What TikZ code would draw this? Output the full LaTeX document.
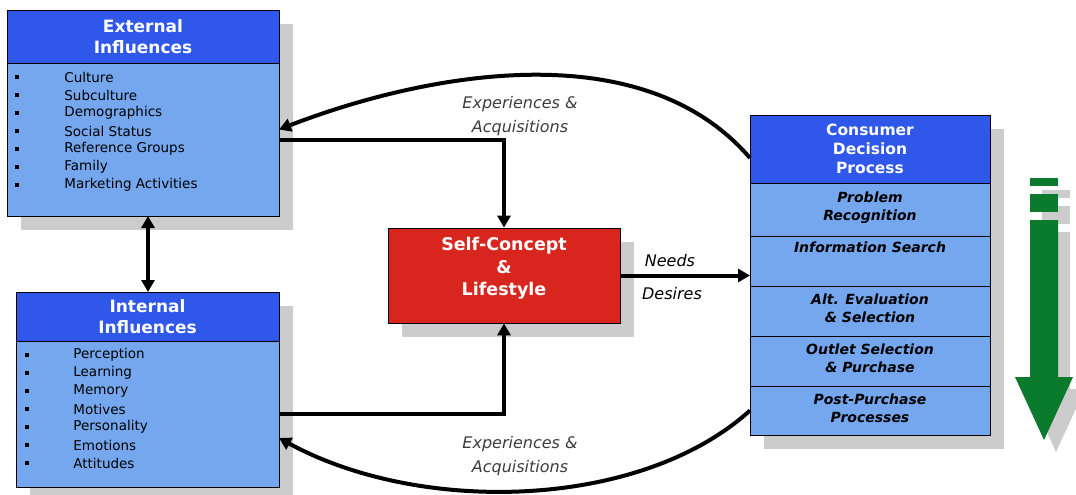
\documentclass[tikz,border=0pt]{standalone}
\usepackage{fontspec}
\setmainfont{DejaVu Sans}
\usetikzlibrary{positioning,arrows.meta}
\definecolor{hdrblue}{HTML}{2F57EA}
\definecolor{bodyblue}{HTML}{74A7EE}
\definecolor{selfred}{HTML}{D8261F}
\definecolor{flowgreen}{HTML}{0A7A2C}
\definecolor{shadegray}{HTML}{CCCCCC}
\definecolor{notegray}{HTML}{3C3C3C}

\begin{document}
\begin{tikzpicture}[x=1pt, y=-1pt, thick,
    hdr/.style = {draw=black, line width=0.8pt, fill=hdrblue, text=white, align=center,
      font=\bfseries\fontsize{17}{21}\selectfont, inner sep=0pt, outer sep=0pt},
    body/.style = {draw=black, line width=0.8pt, fill=bodyblue, inner sep=0pt, outer sep=0pt},
    item/.style = {anchor=west, inner sep=0pt, font=\fontsize{13.5}{15}\selectfont},
    dot/.style = {fill=black, minimum size=3.5pt, inner sep=0pt},
    stage/.style = {draw=black, line width=0.8pt, fill=bodyblue, align=center, minimum width=240pt,
      inner sep=0pt, outer sep=0pt, text depth=6pt, font=\bfseries\itshape\fontsize{14}{18}\selectfont},
    selfbox/.style = {draw=black, line width=0.8pt, fill=selfred, text=white, align=center,
      minimum width=232pt, minimum height=95pt, font=\bfseries\fontsize{17.5}{22.5}\selectfont},
    conn/.style = {line width=4pt, -{Triangle[length=12pt,width=13pt]}},
    note/.style = {inner sep=0pt, font=\itshape\fontsize{16}{24}\selectfont},
    boxshade/.style = {fill=shadegray}
    ]
\useasboundingbox (0,0) rectangle (1076,495);

% shadows
\fill[boxshade] (21,24) rectangle (293,230);
\fill[boxshade] (30,306) rectangle (293,499);
\fill[boxshade] (402,242) rectangle (634,337);
\fill[boxshade] (764,129) rectangle (1004,449);
\fill[boxshade] (1042,190) rectangle (1070,198);
\fill[boxshade] (1042,206) rectangle (1070,224);
\fill[boxshade] (1042,232) -- (1070,232) -- (1070,389) -- (1085,389) -- (1056,452) -- (1027,389) -- (1042,389) -- cycle;

% external influences
\node[hdr, minimum width=272pt, minimum height=53pt, anchor=north west] (exth) at (7,10) {External\\Influences};
\node[body, minimum width=272pt, minimum height=153pt, below=0pt of exth] (extb) {};
\foreach \t [count=\i] in {Culture, Subculture, Demographics, Social Status, Reference Groups, Family, Marketing Activities}
{
  \node[dot] (extdot\i) at (17,59+18*\i) {};
  \node[item] (ext\i) at (64,59+18*\i) {\t};
}

% internal influences
\node[hdr, minimum width=263pt, minimum height=49pt, anchor=north west] (inth) at (16,292) {Internal\\Influences};
\node[body, minimum width=263pt, minimum height=146pt, below=0pt of inth] (intb) {};
\foreach \t [count=\i] in {Perception, Learning, Memory, Motives, Personality, Emotions, Attitudes}
{
  \node[dot] (intdot\i) at (27,337+18*\i) {};
  \node[item] (int\i) at (73,337+18*\i) {\t};
}

% self-concept
\node[selfbox, text depth=18pt] (self) at (504,275.5) {Self-Concept\\\&\\Lifestyle};

% consumer decision process
\node[hdr, minimum width=240pt, minimum height=68pt, anchor=north west,
  font=\bfseries\fontsize{15.5}{19}\selectfont] (cdph) at (750,115) {Consumer\\Decision\\Process};
\node[stage, minimum height=53pt, below=0pt of cdph, text depth=6pt] (prob) {Problem\\Recognition};
\node[stage, minimum height=50pt, below=0pt of prob, text depth=27pt] (info) {Information Search};
\node[stage, minimum height=50pt, below=0pt of info] (alt) {Alt. Evaluation\\\& Selection};
\node[stage, minimum height=50pt, below=0pt of alt] (outlet) {Outlet Selection\\\& Purchase};
\node[stage, minimum height=49pt, below=0pt of outlet, text depth=4pt] (post) {Post-Purchase\\Processes};

% downward flow arrow
\fill[flowgreen] (1030,178) rectangle (1058,186);
\fill[flowgreen] (1030,194) rectangle (1058,212);
\fill[flowgreen] (1030,220) -- (1058,220) -- (1058,377) -- (1073,377) -- (1044,440) -- (1015,377) -- (1030,377) -- cycle;

% connectors
\draw[line width=4pt, {Triangle[length=12pt,width=13pt]}-{Triangle[length=12pt,width=13pt]}] (inth.north -| 148,0) -- (extb.south -| 148,0);
\draw[conn] (extb.east) -| (self.north);
\draw[conn] (intb.east) -| (self.south);
\draw[conn] (self.east) -- (self.east -| cdph.west);
\draw[conn] ([yshift=-9pt]cdph.west) .. controls (640,30) and (420,75) .. ([yshift=10pt]extb.east);
\draw[conn] (post.west) .. controls (640,510) and (420,515) .. ([yshift=-24pt]intb.east);

% labels
\node[note, text=notegray, align=center] (topnote) at (520,116) {Experiences \&\\Acquisitions};
\node[note, text=notegray, align=center] (botnote) at (520,456) {Experiences \&\\Acquisitions};
\node[note] (needs) at (670,261) {Needs};
\node[note] (desires) at (672,294) {Desires};

\end{tikzpicture}
\end{document}
